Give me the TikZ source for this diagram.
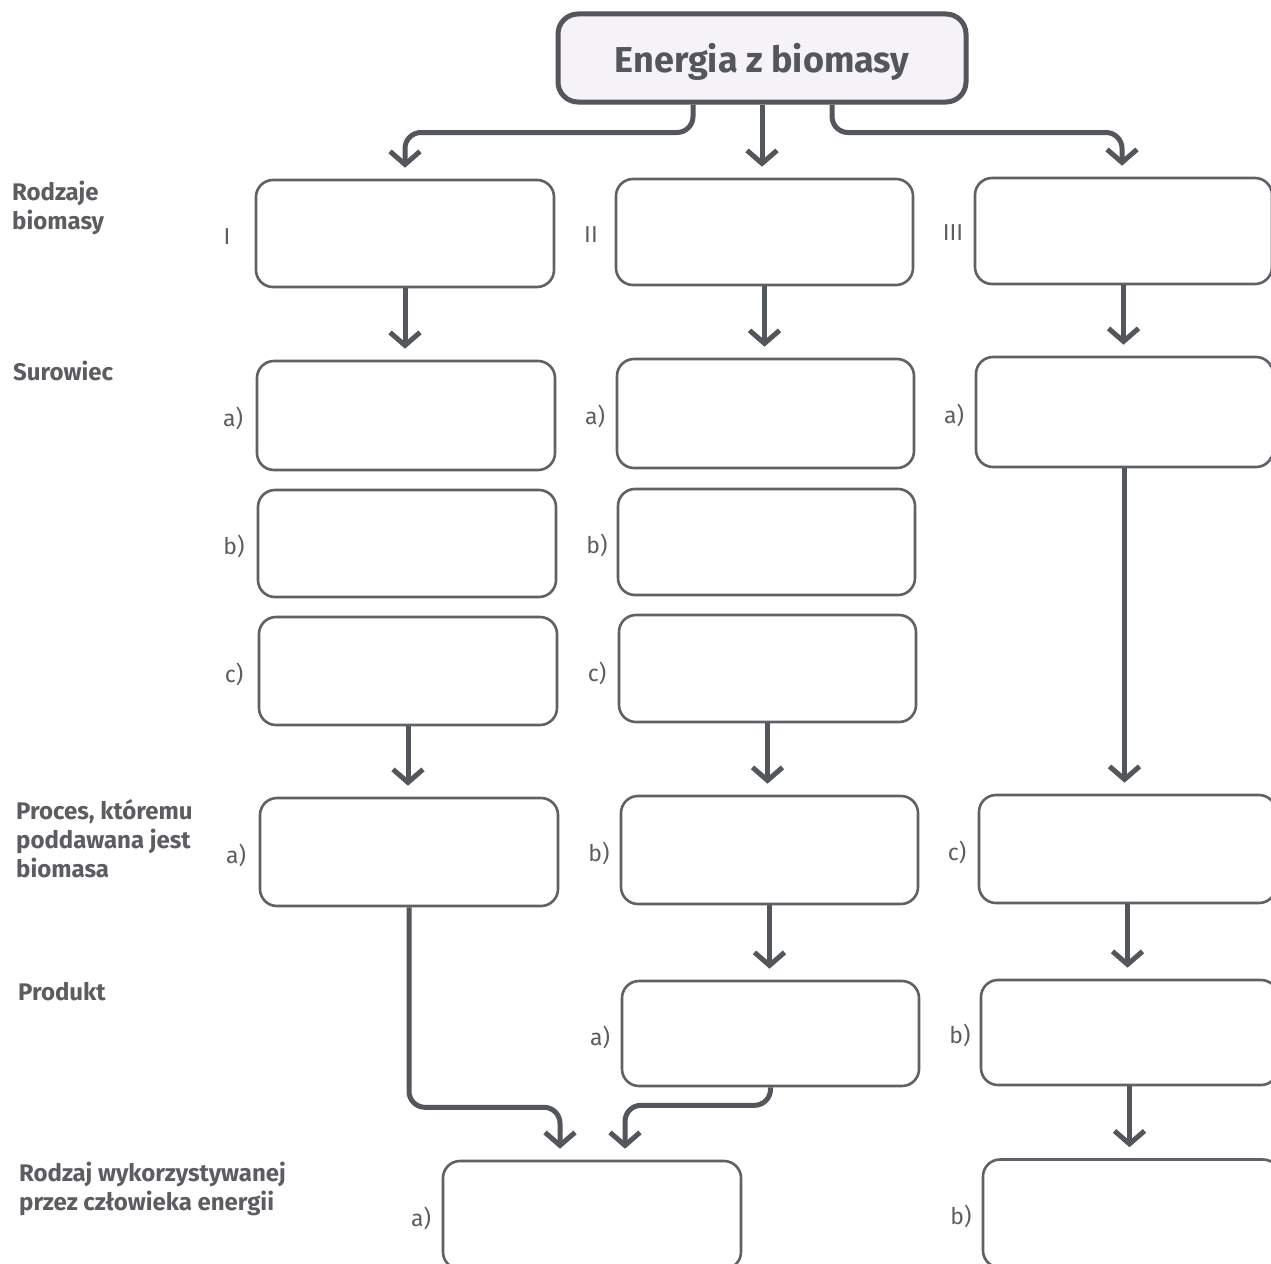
\documentclass[tikz,border=0pt]{standalone}
\usepackage{fontspec}
\setmainfont{Fira Sans}
\usetikzlibrary{arrows.meta}
\definecolor{ink}{HTML}{53565B}
\definecolor{frame}{HTML}{5E6166}
\definecolor{txt}{HTML}{5C5D60}
\definecolor{titlefill}{HTML}{F6F3F8}
\tikzset{
  box/.style={draw=frame, line width=2.6pt, rounded corners=17pt, minimum width=298pt, inner sep=0pt},
  titlebox/.style={draw=ink, line width=5pt, rounded corners=20pt, fill=titlefill,
    minimum width=408pt, minimum height=88pt, text height=36pt, text depth=7pt,
    font=\fontsize{36}{40}\selectfont\bfseries, text=ink},
  conn/.style={draw=ink, line width=5pt, rounded corners=16pt,
    -{Straight Barb[length=13pt,width=30pt,line width=5pt]}, shorten >=11pt},
  rowlbl/.style={anchor=north west, align=left, inner sep=0pt, text=txt,
    font=\fontsize{24}{29}\selectfont\bfseries},
  itemlbl/.style={inner sep=0pt, text=txt, font=\fontsize{23}{26}\selectfont}
}
\begin{document}
\begin{tikzpicture}[x=1pt, y=-1pt]
\useasboundingbox (0,0) rectangle (1271,1263);
\fill[white] (0,0) rectangle (1271,1263);

% title
\node[titlebox] (title) at (762,58) {Energia z biomasy};

% column I
\node[box, minimum height=107pt] (c1r) at (405,233.5) {};
\node[box, minimum height=109pt] (c1a) at (406,415.5) {};
\node[box, minimum height=107pt] (c1b) at (407,543.5) {};
\node[box, minimum height=108pt] (c1c) at (408,671) {};
\node[box, minimum height=108pt] (c1p) at (409,852) {};
\node[box, minimum height=108pt] (e1) at (592,1215) {};

% column II
\node[box, minimum width=297pt, minimum height=106pt] (c2r) at (764.5,232) {};
\node[box, minimum width=297pt, minimum height=109pt] (c2a) at (765.5,413.5) {};
\node[box, minimum width=297pt, minimum height=106pt] (c2b) at (766.5,542) {};
\node[box, minimum width=297pt, minimum height=107pt] (c2c) at (767.5,668.5) {};
\node[box, minimum width=297pt, minimum height=108pt] (c2p) at (769.5,850) {};
\node[box, minimum width=297pt, minimum height=105pt] (c2d) at (770.5,1033.5) {};

% column III
\node[box, minimum width=297pt, minimum height=106pt] (c3r) at (1123.5,231) {};
\node[box, minimum width=297pt, minimum height=110pt] (c3a) at (1124.5,412) {};
\node[box, minimum width=297pt, minimum height=108pt] (c3p) at (1127.5,849) {};
\node[box, minimum width=297pt, minimum height=105pt] (c3d) at (1129.5,1032.5) {};
\node[box, minimum width=297pt, minimum height=108pt] (e2) at (1131.5,1213.5) {};

% row captions
\node[rowlbl] (r1) at (12,181) {Rodzaje\\biomasy};
\node[rowlbl] (r2) at (13,361) {Surowiec};
\node[rowlbl] (r3) at (16,799) {Proces, któremu\\poddawana jest\\biomasa};
\node[rowlbl] (r4) at (18,982) {Produkt};
\node[rowlbl] (r5) at (19,1162) {Rodzaj wykorzystywanej\\przez człowieka energii};

% item markers
\node[itemlbl] (m1) at (227,237) {I};
\node[itemlbl] (m2) at (591,235) {II};
\node[itemlbl] (m3) at (953,233) {III};
\node[itemlbl] (m4) at (233,418) {a)};
\node[itemlbl] (m5) at (234,546) {b)};
\node[itemlbl] (m6) at (234,674) {c)};
\node[itemlbl] (m7) at (236,855) {a)};
\node[itemlbl] (m8) at (595,416) {a)};
\node[itemlbl] (m9) at (597,545) {b)};
\node[itemlbl] (m10) at (597,673) {c)};
\node[itemlbl] (m11) at (599,853) {b)};
\node[itemlbl] (m12) at (600,1037) {a)};
\node[itemlbl] (m13) at (954,415) {a)};
\node[itemlbl] (m14) at (957,852) {c)};
\node[itemlbl] (m15) at (960,1035) {b)};
\node[itemlbl] (m16) at (421,1218) {a)};
\node[itemlbl] (m17) at (961,1216) {b)};

% connectors from the title
\draw[conn] ([xshift=-69pt]title.south) -- ++(0,28) -| (c1r.north);
\draw[conn] (title.south) -- (title.south |- c2r.north);
\draw[conn] ([xshift=70pt]title.south) -- ++(0,28) -| ([xshift=-1.5pt]c3r.north);

% connectors within the columns
\draw[conn] (c1r.south) -- (c1r.south |- c1a.north);
\draw[conn] (c2r.south) -- (c2r.south |- c2a.north);
\draw[conn] (c3r.south) -- (c3r.south |- c3a.north);
\draw[conn] (c1c.south) -- (c1c.south |- c1p.north);
\draw[conn] (c2c.south) -- (c2c.south |- c2p.north);
\draw[conn] (c3a.south) -- (c3a.south |- c3p.north);
\draw[conn] (c2p.south) -- (c2p.south |- c2d.north);
\draw[conn] (c3p.south) -- (c3p.south |- c3d.north);
\draw[conn] (c3d.south) -- (c3d.south |- e2.north);

% connectors joining into the bottom box
\draw[conn] (c1p.south) -- ++(0,200) -| ([xshift=-32pt]e1.north);
\draw[conn] (c2d.south) -- ++(0,18) -| ([xshift=33pt]e1.north);
\end{tikzpicture}
\end{document}
